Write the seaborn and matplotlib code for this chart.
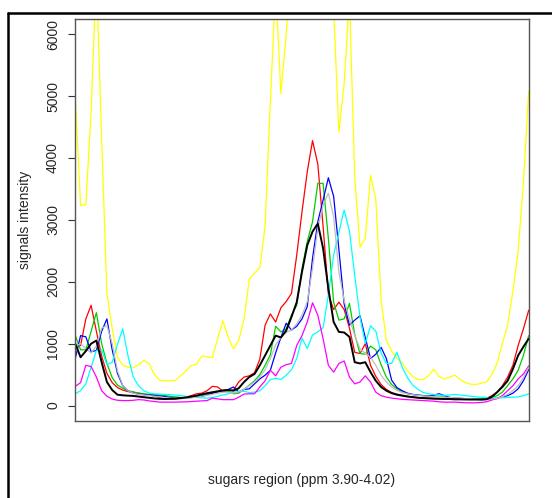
import numpy as np
import matplotlib
matplotlib.use('Agg')
import matplotlib.pyplot as plt
from matplotlib.lines import Line2D
import seaborn as sns

# spectral points along the sugars region (87 bins)
points = np.arange(87)

yellow = [4965, 3230, 3250, 4750, 7000, 4300, 1800, 1250, 780, 650,
          620, 610, 660, 730, 680, 500, 410, 400, 400, 410,
          480, 560, 650, 670, 800, 790, 770, 1080, 1370, 1100,
          915, 1050, 1400, 2040, 2140, 2230, 2900, 4900, 6800, 5040,
          6000, 7500, 8500, 9000, 9200, 9000, 8500, 8000, 7500, 6400,
          4420, 5200, 6600, 3700, 2560, 2700, 3720, 3330, 1720, 1050,
          880, 760, 690, 560, 470, 420, 420, 480, 590, 470,
          430, 460, 490, 420, 370, 345, 340, 360, 380, 500,
          680, 1000, 1300, 1850, 2500, 3600, 5080]

red = [970, 970, 1400, 1620, 1200, 800, 520, 370, 290, 250,
       225, 215, 200, 185, 170, 150, 130, 110, 108, 110,
       120, 135, 160, 190, 200, 240, 310, 300, 230, 240,
       250, 380, 460, 480, 530, 750, 1300, 1480, 1350, 1580,
       1680, 1810, 2430, 3130, 3780, 4280, 3900, 2900, 1800, 1550,
       1670, 1550, 1250, 860, 840, 1000, 650, 470, 340, 260,
       210, 185, 165, 150, 140, 130, 125, 120, 118, 115,
       110, 108, 105, 100, 100, 100, 105, 110, 115, 160,
       215, 320, 460, 650, 970, 1240, 1540]

green = [1130, 900, 900, 1200, 1500, 1000, 680, 450, 330, 280,
         240, 220, 200, 190, 180, 175, 170, 160, 150, 140,
         130, 130, 140, 150, 160, 180, 200, 220, 240, 230,
         190, 200, 260, 330, 400, 500, 650, 820, 1280, 1190,
         1240, 1460, 1620, 2210, 2650, 2970, 3590, 3590, 2700, 1670,
         1380, 1400, 1650, 1150, 840, 830, 960, 900, 660, 460,
         340, 270, 220, 190, 175, 165, 160, 160, 160, 150,
         140, 130, 120, 115, 110, 110, 110, 115, 120, 135,
         160, 215, 320, 430, 570, 810, 1130]

blue = [760, 1130, 1110, 870, 890, 1200, 1400, 900, 520, 320,
        240, 200, 185, 175, 170, 165, 155, 145, 130, 120,
        120, 125, 130, 140, 150, 170, 200, 220, 240, 260,
        300, 220, 260, 270, 350, 430, 490, 570, 850, 1100,
        1330, 1220, 1280, 1400, 1600, 2380, 2970, 3320, 3680, 3380,
        2520, 1640, 1300, 1380, 1450, 1100, 760, 830, 940, 760,
        410, 290, 240, 200, 180, 170, 160, 150, 170, 190,
        160, 130, 120, 115, 110, 105, 100, 95, 100, 110,
        120, 140, 160, 200, 270, 400, 580]

cyan = [190, 240, 350, 620, 890, 900, 660, 700, 990, 1240,
        800, 460, 320, 240, 200, 190, 185, 180, 175, 170,
        160, 150, 140, 130, 125, 120, 130, 150, 170, 190,
        210, 230, 230, 210, 215, 240, 320, 420, 440, 420,
        490, 580, 760, 1090, 920, 1140, 1190, 1260, 1780, 2430,
        2800, 3160, 2820, 2100, 1430, 1000, 1290, 1200, 850, 680,
        680, 860, 620, 450, 330, 260, 210, 190, 180, 170,
        165, 170, 180, 170, 160, 150, 140, 135, 130, 125,
        125, 125, 130, 135, 140, 160, 190]

magenta = [310, 370, 650, 630, 460, 240, 150, 105, 85, 80,
           80, 85, 95, 90, 75, 65, 55, 55, 55, 55,
           58, 60, 65, 70, 75, 80, 119, 108, 95, 95,
           95, 135, 185, 190, 190, 300, 400, 570, 480, 620,
           660, 680, 970, 1130, 1350, 1660, 1460, 1080, 650, 540,
           680, 720, 460, 350, 380, 480, 380, 215, 160, 135,
           120, 110, 100, 95, 90, 85, 80, 75, 70, 60,
           55, 55, 55, 50, 45, 43, 45, 50, 60, 90,
           110, 160, 240, 320, 430, 510, 640]

gray = [950, 1000, 920, 850, 960, 1250, 1290, 1000, 560, 330,
        240, 200, 180, 170, 160, 150, 140, 130, 120, 115,
        110, 115, 125, 135, 150, 165, 180, 200, 215, 215,
        200, 220, 260, 320, 380, 460, 580, 760, 980, 1100,
        1180, 1220, 1320, 1460, 1680, 2220, 2860, 3240, 3430, 3050,
        2150, 1700, 1400, 1130, 920, 840, 780, 650, 490, 380,
        300, 245, 210, 190, 175, 165, 155, 150, 145, 140,
        135, 130, 125, 120, 115, 110, 105, 100, 100, 105,
        115, 140, 180, 240, 320, 450, 620]

black = [1000, 780, 880, 1000, 1050, 700, 380, 250, 175, 165,
         160, 155, 145, 135, 125, 115, 108, 105, 108, 110,
         120, 130, 145, 160, 180, 200, 215, 230, 245, 250,
         240, 280, 380, 460, 510, 650, 810, 970, 1130, 1100,
         1210, 1430, 1670, 2160, 2590, 2810, 2940, 2540, 1890, 1350,
         1190, 1180, 1110, 700, 680, 700, 540, 400, 300, 240,
         200, 175, 160, 145, 135, 125, 120, 115, 110, 108,
         105, 105, 100, 100, 98, 97, 97, 97, 100, 140,
         215, 300, 400, 590, 810, 950, 1080]

series = [
    (yellow, '#FFFF00', 0.9),
    (red, '#FF0000', 0.9),
    (green, '#00CD00', 0.9),
    (blue, '#0000FF', 0.9),
    (cyan, '#00FFFF', 0.9),
    (magenta, '#FF00FF', 0.9),
    (gray, '#BEBEBE', 0.9),
    (black, '#000000', 1.4),
]

sns.set_theme(style='white')
plt.rcParams['font.family'] = ['Liberation Sans', 'DejaVu Sans']

fig = plt.figure(figsize=(5.52, 4.98), dpi=100)
ax = fig.add_axes([0.1364, 0.1546, 0.8214, 0.8072])

for vals, col, lw in series:
    sns.lineplot(x=points, y=vals, color=col, linewidth=lw, ax=ax)

ax.set_xlim(points[0], points[-1])
ax.set_ylim(-250, 6245)
ax.set_xticks([])
ax.set_yticks(range(0, 7000, 1000))
ax.tick_params(axis='y', left=True, direction='out', length=5, width=0.8,
               color='#333333', labelsize=10, pad=6, labelrotation=90)
for lab in ax.get_yticklabels():
    lab.set_va('center')

for sp in ax.spines.values():
    sp.set_color('#555555')
    sp.set_linewidth(1.0)

ax.set_xlabel('sugars region (ppm 3.90-4.02)', fontsize=10)
ax.xaxis.set_label_coords(0.5, -0.13)
ax.set_ylabel('signals intensity', fontsize=10)
ax.yaxis.set_label_coords(-0.095, 0.5)

# outer frame (left and top edges only are inside the picture)
fig.add_artist(Line2D([8.3 / 552, 8.3 / 552], [0, 1 - 13.5 / 498],
                      color='black', lw=1.8, transform=fig.transFigure))
fig.add_artist(Line2D([8.3 / 552, 1], [1 - 13.5 / 498, 1 - 13.5 / 498],
                      color='black', lw=1.8, transform=fig.transFigure))

fig.savefig('out.png', dpi=100)
